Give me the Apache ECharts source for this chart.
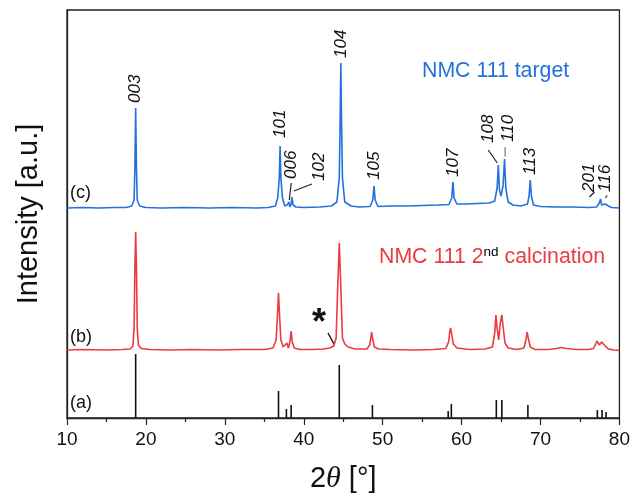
<!DOCTYPE html>
<html><head><meta charset="utf-8">
<script src="https://cdn.jsdelivr.net/npm/echarts@6/dist/echarts.min.js"></script>
<style>html,body{margin:0;padding:0;background:#fff}#c{width:633px;height:500px}</style>
</head><body><div id="c"></div>
<script>
// ---- data (x = 2theta in degrees, y = stacked intensity, arbitrary units) ----
const xTicks = [10, 20, 30, 40, 50, 60, 70, 80];

// (c) NMC 111 target - measured profile
const targetProfile = [
[10,210],[12,210.5],[14,210],[16,210.5],[17.5,210.5],[18.2,212],[18.5,218],[18.6,250],[18.7,310],[18.8,250],[18.9,218],[19.2,212],
[20,210.5],[22,210],[25,210.5],[28,210],[31,210.5],[34,210],[35.5,210.5],[36.4,212],[36.7,220],[36.9,240],[37.0,272],[37.1,240],
[37.3,220],[37.6,212],[37.9,213],[38.1,216],[38.25,211],[38.4,214],[38.5,221],[38.65,213],[39,211],[40,210.5],[42,211],[43.5,212],
[44.2,216],[44.5,240],[44.6,290],[44.7,355],[44.8,290],[44.9,240],[45.2,216],[46,212],[47,211],[48.4,211.5],[48.75,218],[48.9,232],
[49.05,218],[49.4,211.5],[51,212],[53,212],[55,212.5],[57,213],[58.4,213.5],[58.75,220],[58.9,236],[59.05,220],[59.4,214],[60.5,214],
[62,214.5],[63.5,215],[64.2,217],[64.5,230],[64.65,253],[64.8,228],[65.0,222],[65.25,232],[65.44,259],[65.6,230],[65.9,216],[66.5,213],
[67.5,212],[68.35,214],[68.55,222],[68.7,238],[68.85,222],[69.1,213],[70,211.5],[72,211],[74,211],[76,210.5],[77.1,211],[77.45,215],
[77.6,219],[77.75,213],[77.95,212],[78.2,214],[78.4,216],[78.6,212],[79,210.5],[80,210]
];

// (b) NMC 111 2nd calcination - measured profile
const calcProfile = [
[10,68],[12,68.5],[15,68],[17,68.5],[18.0,69],[18.35,72],[18.5,90],[18.6,150],[18.7,186],[18.8,150],[18.9,90],[19.05,73],[19.4,69.5],
[20.5,68.5],[23,68],[26,68.5],[29,68],[32,68.5],[35,68.5],[36.1,70],[36.5,78],[36.65,100],[36.8,125],[36.95,100],[37.1,78],[37.4,71],
[37.65,71],[37.85,75],[38.05,70],[38.25,76],[38.4,87],[38.55,76],[38.8,70],[39.5,68.5],[41,68.5],[42.5,69],[43.3,70],[43.8,72],
[44.1,80],[44.3,130],[44.5,175],[44.7,130],[44.9,80],[45.2,74],[45.6,71],[46.5,69],[48.0,69],[48.35,73],[48.5,80],[48.6,86],[48.75,78],
[48.95,71],[49.5,69],[51,68.5],[54,68],[56.5,68.5],[58.0,69.5],[58.35,76],[58.5,86],[58.6,90],[58.75,84],[58.95,74],[59.4,70],[61,68.5],
[63,69],[63.9,71],[64.2,85],[64.35,103],[64.5,90],[64.7,78],[64.9,95],[65.1,103],[65.25,92],[65.5,75],[65.9,70],[67,68.5],[67.9,70],
[68.15,78],[68.3,86],[68.45,80],[68.7,71],[69.3,68.5],[71,68.5],[72,69.5],[72.6,70.5],[73.3,69.5],[74.5,68.5],[76,68.5],[76.7,69.5],
[77.0,74],[77.15,77],[77.45,73],[77.75,76],[77.9,76.5],[78.2,72],[78.6,69],[79.3,68],[80,67.5]
];

// (a) reference pattern sticks
const refPos = [18.7, 36.8, 37.8, 38.4, 44.5, 48.7, 58.3, 58.7, 64.4, 65.1, 68.4, 77.2, 77.8, 78.3];
const refInt = [64, 27, 9, 13, 53, 13, 7, 14, 18, 18, 13, 8, 8, 6];

// hkl labels on the target pattern
const hkl     = ['003','101','006','102','104','105','107','108','110','113','201','116'];
const hklPos  = [18.7, 37.0, 38.1, 38.5, 44.7, 48.9, 58.9, 64.65, 65.44, 68.7, 77.6, 78.4];
const hklTop  = [310, 272, 216, 221, 355, 232, 236, 253, 259, 238, 219, 216];

// ---- styling / layout (pixel offsets for label placement) ----
const BLUE = '#2470dc', RED = '#ec3b40', INK = '#111';
// [dx, dy] of label anchor from the peak top; leader line [x1,y1,x2,y2] relative to peak top (null = none)
const labelOffsets = {
  '003':[[0,-5],null], '101':[[0,-8],null], '006':[[3,-23],[0.5,-2,2.5,-19]], '102':[[27,-16],[2,-6,20,-13]],
  '104':[[0,-5],null], '105':[[0,-6],null], '107':[[0,-5],null], '108':[[-10,-22],[-1,-2,-10,-15]],
  '110':[[3.5,-17],[0.6,-2.5,0.6,-12]], '113':[[0,-5],null], '201':[[-11,-7],[-11,-2,-6,-7]], '116':[[-1.5,-10],[-1.5,-4,0.5,-6.5]]
};

const chart = echarts.init(document.getElementById('c'), null, {renderer:'canvas'});
const FONT = '"Liberation Sans", Arial, sans-serif';

const option = {
  animation: false,
  grid: { left: 67, right: 11, top: 10, bottom: 82, show: true, borderColor: '#222', borderWidth: 1.3, backgroundColor: 'transparent' },
  xAxis: {
    type: 'value', min: 10, max: 80, interval: 10,
    axisLine: { lineStyle: { color: '#222', width: 1.3 } },
    axisTick: { show: true, inside: false, length: 7, lineStyle: { color: '#222', width: 1.2 } },
    minorTick: { show: true, splitNumber: 2, length: 4, lineStyle: { color: '#222', width: 1.2 } },
    splitLine: { show: false },
    axisLabel: { fontSize: 19, color: '#111', fontFamily: FONT, margin: 12 },
    name: '{n|2}{t|θ}{n| [°]}', nameLocation: 'middle', nameGap: 46,
    nameTextStyle: { rich: { n: { fontSize: 29, fontFamily: FONT, color: '#111' }, t: { fontSize: 30, fontFamily: '"Liberation Serif", "DejaVu Serif", serif', fontStyle: 'italic', color: '#111' } } }
  },
  yAxis: {
    type: 'value', min: 0, max: 408,
    axisLine: { show: true, lineStyle: { color: '#222', width: 1.3 } },
    axisTick: { show: false }, axisLabel: { show: false }, splitLine: { show: false },
    name: 'Intensity [a.u.]', nameLocation: 'middle', nameGap: 24,
    nameTextStyle: { fontSize: 29, fontFamily: FONT, color: '#111' }
  },
  series: [
    { type: 'line', data: targetProfile, symbol: 'none', lineStyle: { color: BLUE, width: 1.6 }, z: 3 },
    { type: 'line', data: calcProfile, symbol: 'none', lineStyle: { color: RED, width: 1.6 }, z: 3 },
    { type: 'custom', data: refPos.map((p, i) => [p, refInt[i]]),
      renderItem: function (params, api) {
        const a = api.coord([api.value(0), 0]);
        const b = api.coord([api.value(0), api.value(1)]);
        return { type: 'line', shape: { x1: a[0], y1: a[1], x2: b[0], y2: b[1] }, style: { stroke: INK, lineWidth: 1.6 } };
      }, z: 2 },
    { type: 'custom', data: hkl.map((h, i) => [hklPos[i], hklTop[i], i]),
      renderItem: function (params, api) {
        const i = api.value(2);
        const h = hkl[i];
        const p = api.coord([api.value(0), api.value(1)]);
        const off = labelOffsets[h];
        const children = [{
          type: 'text', x: p[0] + off[0][0], y: p[1] + off[0][1], rotation: Math.PI / 2,
          style: { text: h, fontSize: 17, fontStyle: 'italic', fontFamily: FONT, fill: '#111', align: 'left', verticalAlign: 'middle' }
        }];
        if (off[1]) {
          const L = off[1];
          children.push({ type: 'line', shape: { x1: p[0] + L[0], y1: p[1] + L[1], x2: p[0] + L[2], y2: p[1] + L[3] }, style: { stroke: h === '110' ? '#777' : '#222', lineWidth: 1.2 } });
        }
        return { type: 'group', children: children };
      }, z: 5 }
  ],
  graphic: [
    { type: 'text', left: 422, top: 61, style: { text: 'NMC 111 target', fontSize: 21.3, fontFamily: FONT, fill: BLUE } },
    { type: 'text', left: 379, top: 245, style: { text: '{a|NMC 111 2}{s|nd}{a| calcination}', rich: { a: { fontSize: 21.3, fontFamily: FONT, fill: RED, color: RED }, s: { fontSize: 13.5, fontFamily: FONT, color: RED, padding: [0,0,10,0] } } } },
    { type: 'text', left: 70, top: 184, style: { text: '(c)', fontSize: 18, fontFamily: FONT, fill: '#111' } },
    { type: 'text', left: 70, top: 328, style: { text: '(b)', fontSize: 18, fontFamily: FONT, fill: '#111' } },
    { type: 'text', left: 70, top: 394, style: { text: '(a)', fontSize: 18, fontFamily: FONT, fill: '#111' } },
    { type: 'text', left: 312, top: 306, style: { text: '*', fontSize: 36, fontWeight: 'bold', fontFamily: FONT, fill: '#111' } },
    { type: 'line', shape: { x1: 328, y1: 333, x2: 334.5, y2: 345 }, style: { stroke: '#111', lineWidth: 1.4 } }
  ]
};
chart.setOption(option);
</script></body></html>
